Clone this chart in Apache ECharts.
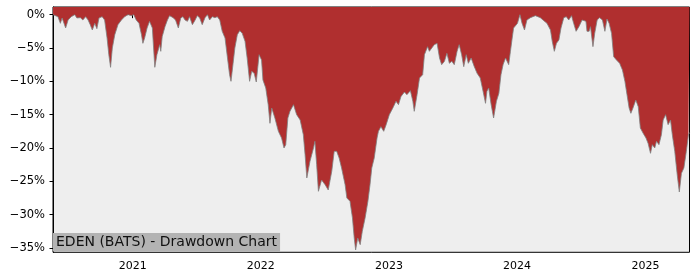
<!DOCTYPE html>
<html>
<head>
<meta charset="utf-8">
<script src="https://cdn.jsdelivr.net/npm/echarts@6/dist/echarts.min.js"></script>
<style>html,body{margin:0;padding:0;background:#fff}#c{width:700px;height:280px}</style>
</head>
<body>
<div id="c"></div>
<script>
const dates = [
'2020-05-19','2020-05-24','2020-06-02','2020-06-09','2020-06-14','2020-06-24','2020-07-01','2020-07-10','2020-07-20','2020-07-26',
'2020-08-05','2020-08-12','2020-08-20','2020-08-27','2020-09-02','2020-09-08','2020-09-15','2020-09-21','2020-09-27','2020-10-06',
'2020-10-13','2020-10-20','2020-10-25','2020-10-30','2020-11-04','2020-11-11','2020-11-20','2020-11-30','2020-12-09','2020-12-19',
'2020-12-28','2021-01-04','2021-01-11','2021-01-19','2021-01-26','2021-01-30','2021-02-04','2021-02-11','2021-02-18','2021-02-26',
'2021-03-05','2021-03-11','2021-03-19','2021-03-22','2021-03-26','2021-04-03','2021-04-10','2021-04-16','2021-04-26','2021-05-03',
'2021-05-11','2021-05-18','2021-05-24','2021-05-30','2021-06-06','2021-06-12','2021-06-20','2021-06-28','2021-07-04','2021-07-11',
'2021-07-18','2021-07-26','2021-08-02','2021-08-08','2021-08-16','2021-08-23','2021-08-30','2021-09-06','2021-09-13','2021-09-21',
'2021-09-28','2021-10-04','2021-10-08','2021-10-14','2021-10-19','2021-10-26','2021-11-02','2021-11-09','2021-11-17','2021-11-23',
'2021-11-30','2021-12-06','2021-12-13','2021-12-19','2021-12-27','2022-01-03','2022-01-07','2022-01-15','2022-01-22','2022-01-27',
'2022-02-01','2022-02-10','2022-02-20','2022-03-01','2022-03-08','2022-03-13','2022-03-19','2022-03-25','2022-04-04','2022-04-13',
'2022-04-23','2022-05-02','2022-05-07','2022-05-12','2022-05-21','2022-05-31','2022-06-04','2022-06-09','2022-06-14','2022-06-23',
'2022-07-03','2022-07-12','2022-07-22','2022-07-29','2022-08-05','2022-08-12','2022-08-19','2022-08-29','2022-09-03','2022-09-12',
'2022-09-19','2022-09-24','2022-09-28','2022-10-04','2022-10-11','2022-10-17','2022-10-25','2022-11-02','2022-11-08','2022-11-13',
'2022-11-20','2022-11-28','2022-12-02','2022-12-09','2022-12-17','2022-12-24','2023-01-02','2023-01-12','2023-01-21','2023-01-28',
'2023-02-04','2023-02-14','2023-02-21','2023-03-03','2023-03-10','2023-03-14','2023-03-22','2023-03-29','2023-04-07','2023-04-12',
'2023-04-21','2023-04-26','2023-05-03','2023-05-10','2023-05-18','2023-05-25','2023-05-31','2023-06-08','2023-06-15','2023-06-22',
'2023-06-29','2023-07-06','2023-07-14','2023-07-20','2023-07-27','2023-08-02','2023-08-09','2023-08-15','2023-08-23','2023-09-01',
'2023-09-09','2023-09-18','2023-09-26','2023-10-03','2023-10-07','2023-10-12','2023-10-19','2023-10-26','2023-11-03','2023-11-10',
'2023-11-16','2023-11-22','2023-11-29','2023-12-08','2023-12-13','2023-12-18','2023-12-22','2024-01-02','2024-01-09','2024-01-15',
'2024-01-22','2024-01-29','2024-02-08','2024-02-22','2024-03-07','2024-03-17','2024-03-26','2024-04-05','2024-04-10','2024-04-16',
'2024-04-22','2024-04-29','2024-05-05','2024-05-13','2024-05-20','2024-05-27','2024-06-04','2024-06-10','2024-06-17','2024-06-25',
'2024-07-04','2024-07-15','2024-07-18','2024-07-24','2024-07-28','2024-08-04','2024-08-09','2024-08-16','2024-08-23','2024-08-31',
'2024-09-07','2024-09-13','2024-09-19','2024-09-26','2024-10-02','2024-10-10','2024-10-19','2024-10-27','2024-11-03','2024-11-09',
'2024-11-15','2024-11-20','2024-11-26','2024-12-04','2024-12-11','2024-12-17','2024-12-25','2025-01-02','2025-01-08','2025-01-15',
'2025-01-20','2025-01-27','2025-02-01','2025-02-08','2025-02-15','2025-02-20','2025-02-27','2025-03-06','2025-03-13','2025-03-18',
'2025-03-25','2025-04-01','2025-04-07','2025-04-13','2025-04-20','2025-04-27','2025-05-03','2025-05-06'
];
const drawdown = [
0,0,-0.3,-1.3,-0.5,-2.0,-0.8,-0.3,0,-0.5,
-0.45,-0.8,-0.3,-0.8,-1.5,-2.3,-1.3,-2.1,-0.5,-0.3,
-0.8,-3.5,-6.0,-7.9,-5.0,-3.0,-1.5,-0.8,-0.3,0,
-0.15,0,-0.8,-1.3,-3.0,-4.3,-3.5,-2.0,-1.0,-2.0,
-7.9,-6.0,-4.5,-5.5,-3.3,-1.8,-0.8,-0.15,-0.45,-0.8,
-2.0,-0.5,-0.3,-0.8,-1.0,-0.3,-1.5,-0.8,-0.15,-0.5,
-1.5,-0.45,0,-0.8,-0.3,-0.45,-0.3,-0.8,-2.5,-3.5,
-6.5,-9.0,-10.0,-7.3,-5.0,-3.0,-2.4,-2.8,-4.0,-6.5,
-10.0,-8.5,-8.8,-10.1,-6.0,-6.8,-9.8,-11.0,-13.5,-16.3,
-14.0,-15.5,-17.5,-18.5,-20.0,-19.5,-15.5,-14.5,-13.5,-15.0,
-15.8,-18.0,-21.0,-24.5,-22.0,-20.0,-19.0,-22.5,-26.5,-24.8,
-25.5,-26.3,-23.5,-20.5,-20.5,-21.5,-23.0,-25.5,-27.5,-28.0,
-30.5,-33.5,-35.3,-33.5,-34.5,-32.5,-30.5,-28.0,-25.5,-23.0,
-21.5,-18.5,-17.5,-16.8,-17.5,-16.5,-15.0,-14.0,-13.0,-13.5,
-12.3,-11.6,-12.0,-11.4,-13.0,-14.5,-12.0,-9.5,-9.0,-6.0,
-4.8,-5.5,-5.0,-4.5,-4.3,-6.5,-7.5,-7.0,-5.8,-7.3,
-7.0,-7.5,-5.5,-4.5,-6.0,-7.8,-6.0,-7.3,-6.5,-7.8,
-8.8,-9.5,-11.5,-13.3,-11.5,-11.0,-13.5,-15.5,-13.0,-11.8,
-9.0,-7.5,-6.5,-7.5,-5.5,-3.5,-2.0,-1.3,0,-1.3,
-2.3,-0.8,-0.45,-0.15,-0.45,-0.9,-1.3,-2.3,-4.0,-5.5,
-4.3,-3.8,-2.0,-0.45,-0.3,-0.8,-0.15,-1.3,-2.5,-1.8,
-0.8,-1.0,-2.5,-2.5,-1.8,-4.8,-2.8,-0.8,-0.45,-0.8,
-2.5,-0.65,-1.3,-2.8,-6.3,-6.8,-7.3,-8.3,-10.0,-12.0,
-14.0,-14.8,-14.0,-12.8,-13.8,-17.0,-17.8,-18.5,-19.3,-20.8,
-19.5,-20.0,-19.0,-19.5,-18.0,-15.8,-15.0,-16.5,-15.8,-18.0,
-20.5,-24.0,-26.6,-23.8,-23.0,-20.5,-18.0,-17.7
];
const yearTicks = ['2021-01-01','2022-01-01','2023-01-01','2024-01-01','2025-01-01'];
const yTicks = [0,-5,-10,-15,-20,-25,-30,-35];
const xRange = ['2020-05-19','2025-05-06'];
const titleText = 'EDEN (BATS) - Drawdown Chart';

const chart = echarts.init(document.getElementById('c'), null, {renderer:'canvas'});
const font = 'DejaVu Sans';
chart.setOption({
  animation: false,
  backgroundColor: '#ffffff',
  title: {
    text: titleText,
    left: 53, top: 233,
    padding: [2, 3, 2, 3],
    backgroundColor: '#b3b3b3',
    textStyle: {fontFamily: font, fontSize: 14, fontWeight: 'normal', color: '#111', lineHeight: 14.5}
  },
  grid: {left: 53, right: 10.5, top: 7, bottom: 27.7, show: true, backgroundColor: '#eeeeee', borderColor: '#000', borderWidth: 1},
  xAxis: {
    type: 'value',
    min: Date.parse(xRange[0]), max: Date.parse(xRange[1]),
    splitLine: {show: false},
    axisLine: {lineStyle: {color: '#000', width: 1}},
    axisTick: {show: true, length: 3.5, lineStyle: {color: '#000'}, customValues: yearTicks.map(d => Date.parse(d))},
    axisLabel: {fontFamily: font, fontSize: 11, color: '#000', margin: 8,
      customValues: yearTicks.map(d => Date.parse(d)),
      formatter: v => String(new Date(v).getUTCFullYear())}
  },
  yAxis: {
    type: 'value',
    min: -35.65, max: 1.15,
    splitLine: {show: false},
    axisLine: {show: true, lineStyle: {color: '#000', width: 1}},
    axisTick: {show: true, length: 3.5, lineStyle: {color: '#000'}, customValues: yTicks},
    axisLabel: {fontFamily: font, fontSize: 11.5, color: '#000', margin: 8,
      customValues: yTicks,
      formatter: v => (v < 0 ? '\u2212' : '') + Math.abs(Math.round(v)) + '%'}
  },
  series: [{
    type: 'line',
    data: dates.map((d, i) => [Date.parse(d), drawdown[i]]),
    symbol: 'none',
    lineStyle: {color: '#808080', width: 0.8},
    areaStyle: {color: '#b02f2f', opacity: 1, origin: 'end'},
    z: 2
  }]
});
</script>
</body>
</html>
